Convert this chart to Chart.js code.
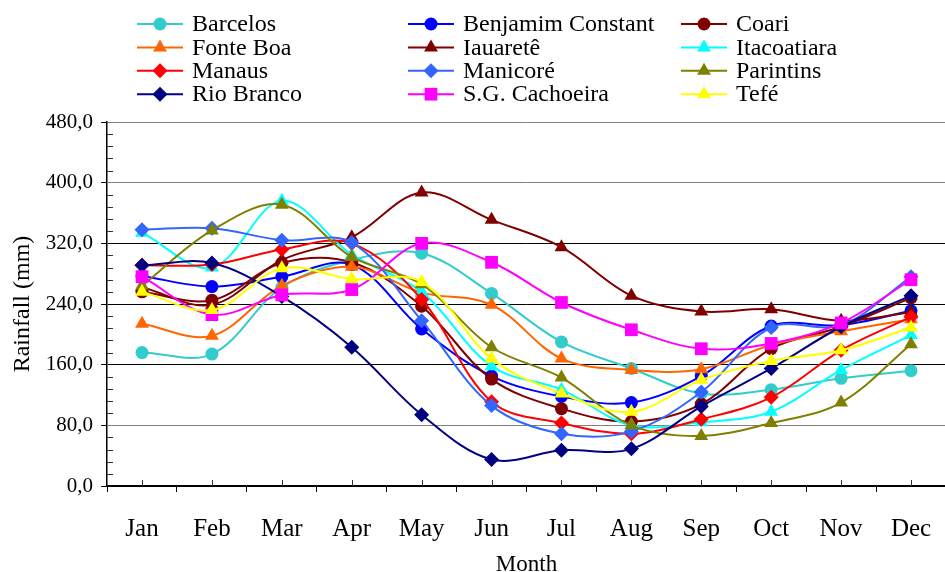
<!DOCTYPE html>
<html>
<head>
<meta charset="utf-8">
<script src="https://cdn.jsdelivr.net/npm/chart.js@4.4.1/dist/chart.umd.min.js"></script>
<style>
  html, body { margin: 0; padding: 0; background: #fff; overflow: hidden; }
  #wrap { position: relative; width: 956px; height: 580px; }
</style>
</head>
<body>
<div id="wrap"><canvas id="rainChart"></canvas></div>
<script>
// ─── DATA ─────────────────────────────────────────────────────────
const months = ['Jan', 'Feb', 'Mar', 'Apr', 'May', 'Jun', 'Jul', 'Aug', 'Sep', 'Oct', 'Nov', 'Dec'];
const yTicks = [0, 80, 160, 240, 320, 400, 480];

const barcelos    = [176, 174, 262, 298, 307, 254, 190, 155, 122, 127, 142, 152];
const benjamim    = [277, 263, 276, 292, 207, 145, 118, 110, 145, 211, 212, 231];
const coari       = [256, 245, 294, 295, 237, 141, 102,  85, 108, 181, 210, 248];
const fonteBoa    = [214, 198, 264, 289, 255, 239, 168, 153, 154, 186, 204, 220];
const iauarete    = [262, 239, 298, 328, 387, 351, 315, 251, 230, 233, 218, 229];
const itacoatiara = [334, 288, 376, 305, 256, 158, 127,  80,  84,  98, 153, 199];
const manaus      = [291, 292, 312, 320, 246, 111,  83,  69,  88, 117, 179, 223];
const manicore    = [338, 340, 324, 321, 218, 106,  69,  72, 124, 209, 212, 276];
const parintins   = [264, 337, 371, 302, 266, 183, 143,  80,  66,  83, 110, 187];
const rioBranco   = [291, 294, 250, 183,  94,  35,  47,  49, 105, 155, 210, 251];
const sgCachoeira = [276, 226, 252, 259, 320, 295, 242, 206, 181, 188, 215, 272];
const tefe        = [256, 232, 287, 273, 269, 168, 122,  98, 140, 165, 179, 209];

const stationNames = ['Barcelos', 'Benjamim Constant', 'Coari', 'Fonte Boa', 'Iauaretê', 'Itacoatiara',
                      'Manaus', 'Manicoré', 'Parintins', 'Rio Branco', 'S.G. Cachoeira', 'Tefé'];
const stationData  = [barcelos, benjamim, coari, fonteBoa, iauarete, itacoatiara,
                      manaus, manicore, parintins, rioBranco, sgCachoeira, tefe];

// ─── STYLES ───────────────────────────────────────────────────────
const colors  = ['#33CCCC', '#0000FF', '#800000', '#FF6600', '#800000', '#00FFFF',
                 '#FF0000', '#3366FF', '#808000', '#000080', '#FF00FF', '#FFFF00'];
const markers = ['circle', 'circle', 'circle', 'triangle', 'triangle', 'triangle',
                 'rectRot', 'rectRot', 'triangle', 'rectRot', 'rect', 'triangle'];
const markerSize = { circle: 6.5, triangle: 8, rectRot: 7.5, rect: 9 };
const FONT = "'Liberation Serif', 'Times New Roman', serif";

// ─── MARKER DRAWING (legend) ─────────────────────────────────────
function drawMarker(ctx, style, x, y, r) {
  ctx.beginPath();
  if (style === 'circle') {
    ctx.arc(x, y, r, 0, Math.PI * 2);
  } else if (style === 'triangle') {
    ctx.moveTo(x, y - r);
    ctx.lineTo(x + 0.866 * r, y + 0.5 * r);
    ctx.lineTo(x - 0.866 * r, y + 0.5 * r);
  } else if (style === 'rectRot') {
    ctx.moveTo(x, y - r); ctx.lineTo(x + r, y); ctx.lineTo(x, y + r); ctx.lineTo(x - r, y);
  } else {
    const h = r * Math.SQRT1_2;
    ctx.rect(x - h, y - h, 2 * h, 2 * h);
  }
  ctx.closePath();
  ctx.fill();
}

// ─── PLUGINS ──────────────────────────────────────────────────────
// legend laid out as a 3-column grid, like the spreadsheet original
const gridLegend = {
  id: 'gridLegend',
  afterDraw(chart) {
    const ctx = chart.ctx;
    const colX = [137, 408, 681];
    ctx.save();
    ctx.font = '24px ' + FONT;
    ctx.textBaseline = 'middle';
    chart.data.datasets.forEach((ds, i) => {
      const x = colX[i % 3];
      const y = 24 + Math.floor(i / 3) * 23.4;
      ctx.strokeStyle = ds.borderColor;
      ctx.lineWidth = 2;
      ctx.beginPath(); ctx.moveTo(x, y); ctx.lineTo(x + 46, y); ctx.stroke();
      ctx.fillStyle = ds.borderColor;
      drawMarker(ctx, ds.pointStyle, x + 23, y, ds.pointRadius);
      ctx.fillStyle = '#000';
      ctx.fillText(ds.label, x + 55, y + 1);
    });
    ctx.restore();
  }
};

// minor ticks inside the plot: every 16 mm on y, at each month on x
const minorTicks = {
  id: 'minorTicks',
  beforeDatasetsDraw(chart) {
    const { ctx, chartArea: a, scales: { x, y } } = chart;
    ctx.save();
    ctx.strokeStyle = '#333';
    ctx.lineWidth = 1;
    ctx.beginPath();
    for (let v = 16; v < 480; v += 16) {
      if (v % 80 === 0) continue;
      const py = Math.round(y.getPixelForValue(v)) + 0.5;
      ctx.moveTo(a.left, py); ctx.lineTo(a.left + 6, py);
    }
    months.forEach((m, i) => {
      const px = Math.round(x.getPixelForValue(i)) + 0.5;
      ctx.moveTo(px, a.bottom); ctx.lineTo(px, a.bottom - 6);
    });
    ctx.stroke();
    ctx.restore();
  }
};

// ─── CHART ────────────────────────────────────────────────────────
const datasets = stationNames.map((name, i) => ({
  label: name,
  data: stationData[i],
  borderColor: colors[i],
  backgroundColor: colors[i],
  pointBackgroundColor: colors[i],
  pointBorderColor: colors[i],
  pointStyle: markers[i],
  pointRadius: markerSize[markers[i]],
  pointBorderWidth: 0,
  borderWidth: 2,
  tension: 0.35,
  fill: false,
  order: stationNames.length - i,   // later series drawn on top
}));

new Chart(document.getElementById('rainChart'), {
  type: 'line',
  data: { labels: months, datasets },
  plugins: [minorTicks, gridLegend],
  options: {
    responsive: true,
    maintainAspectRatio: false,
    animation: false,
    layout: { padding: { top: 122, right: 2, bottom: 3.5, left: 0 } },
    plugins: { legend: { display: false }, tooltip: { enabled: false } },
    scales: {
      x: {
        type: 'category',
        offset: true,
        grid: { offset: true, drawOnChartArea: false, tickLength: 6, tickColor: '#000' },
        border: { color: '#000', width: 1.5 },
        ticks: { color: '#000', padding: 24.5, font: { family: FONT, size: 25, lineHeight: 1 } },
        title: {
          display: true, text: 'Month', color: '#000',
          font: { family: FONT, size: 23, lineHeight: 1 },
          padding: { top: -12.5, bottom: 0 },
        },
      },
      y: {
        min: 0,
        max: 480,
        afterBuildTicks: axis => { axis.ticks = yTicks.map(v => ({ value: v })); },
        grid: {
          color: c => [80, 400, 480].includes(c.tick && c.tick.value) ? '#808080' : '#000',
          lineWidth: 1,
          tickLength: 6,
          tickColor: '#000',
        },
        border: { color: '#000', width: 1.5 },
        ticks: {
          color: '#000', padding: 8,
          font: { family: FONT, size: 21 },
          callback: v => Number(v).toFixed(1).replace('.', ','),
        },
        title: {
          display: true, text: 'Rainfall (mm)', color: '#000',
          font: { family: FONT, size: 24, lineHeight: 1.2 },
          padding: { top: 8, bottom: 1 },
        },
      },
    },
  },
});
</script>
</body>
</html>
